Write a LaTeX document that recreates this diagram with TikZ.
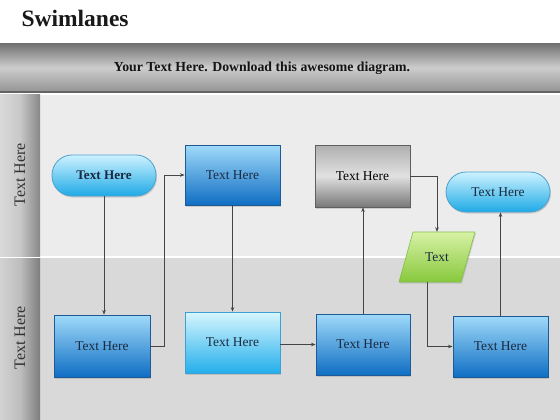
\documentclass[tikz,border=0pt]{standalone}
\usepackage{fontspec}
\setmainfont{Liberation Serif}
\usetikzlibrary{shapes.geometric,shadows,arrows.meta,calc}
\definecolor{txtdark}{HTML}{1A2A40}
\definecolor{lineg}{HTML}{454545}
\definecolor{pillborder}{RGB}{80,160,205}
\definecolor{pilltop}{RGB}{205,242,255}
\definecolor{pillbot}{RGB}{30,170,230}
\definecolor{blueborder}{RGB}{30,90,150}
\definecolor{bluetop}{RGB}{160,218,250}
\definecolor{bluebot}{RGB}{15,110,195}
\definecolor{cyanborder}{RGB}{60,160,210}
\definecolor{cyantop}{RGB}{215,246,255}
\definecolor{cyanbot}{RGB}{35,175,235}
\definecolor{grayborder}{RGB}{95,95,95}
\definecolor{graytop}{RGB}{175,175,175}
\definecolor{graymid}{RGB}{225,225,225}
\definecolor{graybot}{RGB}{120,120,120}
\definecolor{greenborder}{RGB}{130,190,70}
\definecolor{greentop}{RGB}{215,242,165}
\definecolor{greenbot}{RGB}{135,200,60}
\definecolor{titlecol}{RGB}{25,25,25}
\definecolor{hdtop}{RGB}{115,115,115}
\definecolor{hdmid}{RGB}{205,205,205}
\definecolor{hdbot}{RGB}{150,150,150}
\definecolor{hdline}{RGB}{100,100,100}
\definecolor{hdtext}{RGB}{20,20,20}
\definecolor{laneA}{RGB}{236,236,236}
\definecolor{laneB}{RGB}{217,217,217}
\definecolor{colAl}{RGB}{218,218,218}
\definecolor{colAm}{RGB}{200,200,200}
\definecolor{colAr}{RGB}{135,135,135}
\definecolor{colBl}{RGB}{210,210,210}
\definecolor{colBm}{RGB}{190,190,190}
\definecolor{colBr}{RGB}{125,125,125}
\definecolor{lanetext}{RGB}{50,50,50}
\definecolor{shadowc}{RGB}{150,150,150}
\tikzset{
  x=1pt,y=-1pt,
  shd/.style={drop shadow={opacity=0.3,shadow xshift=1pt,shadow yshift=-1.5pt}},
  pillbox/.style={shd,rounded corners=20pt,draw=pillborder,line width=0.8pt,
     top color=pilltop,bottom color=pillbot,
     minimum width=104pt,minimum height=41pt,inner sep=0pt,font=\fontsize{13.5}{15}\selectfont,text=txtdark},
  bluebox/.style={shd,draw=blueborder,line width=0.9pt,
     top color=bluetop,bottom color=bluebot,
     minimum width=95pt,minimum height=61pt,inner sep=0pt,font=\fontsize{13.5}{15}\selectfont,text=txtdark},
  cyanbox/.style={shd,draw=cyanborder,line width=0.8pt,
     top color=cyantop,bottom color=cyanbot,
     minimum width=95pt,minimum height=61pt,inner sep=0pt,font=\fontsize{13.5}{15}\selectfont,text=txtdark},
  graybox/.style={shd,draw=grayborder,line width=0.9pt,
     top color=graytop,bottom color=graybot,middle color=graymid,
     minimum width=95pt,minimum height=62pt,inner sep=0pt,font=\fontsize{13.5}{15}\selectfont,text=black},
  greenshape/.style={draw=greenborder,line width=0.6pt,top color=greentop,bottom color=greenbot},
  greentext/.style={minimum width=60pt,minimum height=50pt,inner sep=0pt,font=\fontsize{13.5}{15}\selectfont,text=txtdark},
  conn/.style={draw=lineg,line width=0.6pt,-{Stealth[length=4.5pt,width=3.5pt]}},
  lanelabel/.style={rotate=90,font=\fontsize{16}{18}\selectfont,text=lanetext},
}
\begin{document}
\begin{tikzpicture}
\useasboundingbox (0,0) rectangle (560,420);
% backgrounds
\fill[white] (0,0) rectangle (560,420);
\node[anchor=west,font=\bfseries\fontsize{23.5}{26}\selectfont,text=titlecol] (title) at (18,18) {Swimlanes};
\shade[top color=hdtop,bottom color=hdbot,middle color=hdmid] (0,44) rectangle (560,91);
\fill[hdline] (0,91) rectangle (560,93);
\node[font=\bfseries\fontsize{13.8}{16}\selectfont,text=hdtext] (header) at (262,68) {Your Text Here. Download this awesome diagram.};
\fill[laneA] (40,95) rectangle (560,256);
\fill[laneB] (40,258) rectangle (560,420);
\shade[left color=colAl,right color=colAr,middle color=colAm] (0,95) rectangle (40,256);
\shade[left color=colBl,right color=colBr,middle color=colBm] (0,258) rectangle (40,420);
\node[lanelabel] (lane1) at (20,175) {Text Here};
\node[lanelabel] (lane2) at (20,338) {Text Here};
% parallelogram shape
\coordinate (gc) at (437,257);
\fill[shadowc,opacity=0.35] ($(gc)+(-23,-23.5)$) -- ($(gc)+(39,-23.5)$) -- ($(gc)+(25,26.5)$) -- ($(gc)+(-37,26.5)$) -- cycle;
\shade[greenshape] ($(gc)+(-24,-25)$) -- ($(gc)+(38,-25)$) -- ($(gc)+(24,25)$) -- ($(gc)+(-38,25)$) -- cycle;
% nodes
\node[pillbox,font=\bfseries\fontsize{13.2}{15}\selectfont] (p1) at (104,175.5) {Text Here};
\node[bluebox,minimum height=60pt] (r2) at (232.5,175) {Text Here};
\node[graybox] (r3) at (362.5,176) {Text Here};
\node[pillbox,minimum height=40pt] (p4) at (498,192) {Text Here};
\node[greentext] (g) at (gc) {Text};
\node[bluebox,minimum width=96pt,minimum height=62pt] (r6) at (102,346) {Text Here};
\node[cyanbox] (r7) at (232.5,342.5) {Text Here};
\node[bluebox,minimum width=94pt] (r8) at (363,344.5) {Text Here};
\node[bluebox] (r9) at (500.5,346.5) {Text Here};
% connectors
\draw[conn] (p1.south) -- (r6.north -| p1.south);
\draw[conn] (r6.east) -- ++(14,0) |- (r2.west);
\draw[conn] (r2.south) -- (r7.north -| r2.south);
\draw[conn] (r7.east |- r8.west) -- (r8.west);
\draw[conn] (r8.north) -- (r3.south -| r8.north);
\draw[conn] (r3.east) -| (g.north);
\draw[conn] ([xshift=-10pt]g.south) |- (r9.west);
\draw[conn] (r9.north) -- (p4.south -| r9.north);
\end{tikzpicture}
\end{document}
